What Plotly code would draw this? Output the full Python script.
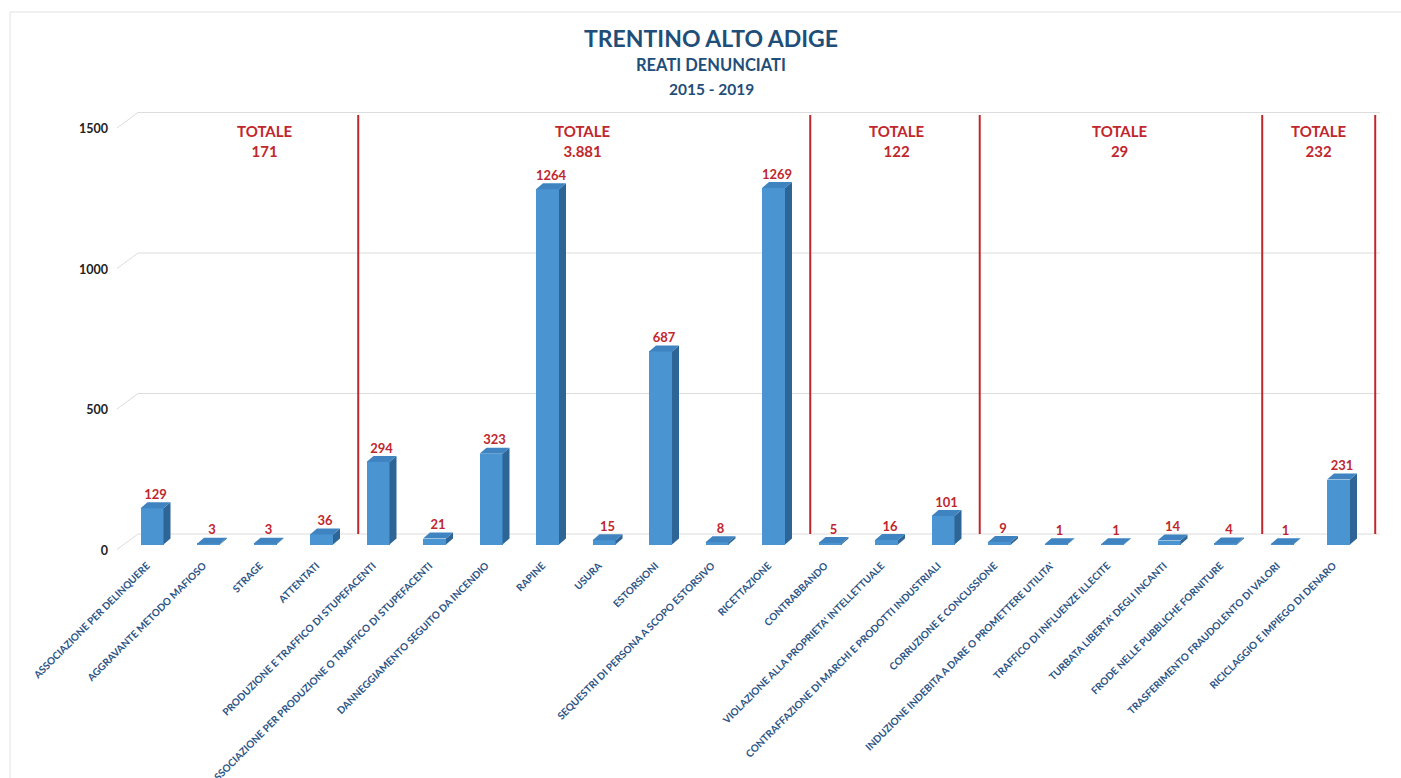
import plotly.graph_objects as go

# ---------------- data ----------------
categories = [
    "ASSOCIAZIONE PER DELINQUERE",
    "AGGRAVANTE METODO MAFIOSO",
    "STRAGE",
    "ATTENTATI",
    "PRODUZIONE E TRAFFICO DI STUPEFACENTI",
    "ASSOCIAZIONE PER PRODUZIONE O TRAFFICO DI STUPEFACENTI",
    "DANNEGGIAMENTO SEGUITO DA INCENDIO",
    "RAPINE",
    "USURA",
    "ESTORSIONI",
    "SEQUESTRI DI PERSONA A SCOPO ESTORSIVO",
    "RICETTAZIONE",
    "CONTRABBANDO",
    "VIOLAZIONE ALLA PROPRIETA' INTELLETTUALE",
    "CONTRAFFAZIONE DI MARCHI E PRODOTTI INDUSTRIALI",
    "CORRUZIONE E CONCUSSIONE",
    "INDUZIONE INDEBITA A DARE O PROMETTERE UTILITA'",
    "TRAFFICO DI INFLUENZE ILLECITE",
    "TURBATA LIBERTA' DEGLI INCANTI",
    "FRODE NELLE PUBBLICHE FORNITURE",
    "TRASFERIMENTO FRAUDOLENTO DI VALORI",
    "RICICLAGGIO E IMPIEGO DI DENARO",
]
values = [129, 3, 3, 36, 294, 21, 323, 1264, 15, 687, 8, 1269,
          5, 16, 101, 9, 1, 1, 14, 4, 1, 231]
group_sizes = [4, 8, 3, 5, 2]
y_ticks = [0, 500, 1000, 1500]

title_main = "TRENTINO ALTO ADIGE"
title_sub = "REATI DENUNCIATI"
title_years = "2015 - 2019"

# ---------------- layout geometry ----------------
PX_PER_CAT = 56.5
PX_PER_UNIT = 0.281
L, R, T, B = 109, 1390, 100, 560
X0_PX = 152
ZERO_PX = 544.5
W, H = 1401, 778

xmin = (L - X0_PX) / PX_PER_CAT
xmax = (R - X0_PX) / PX_PER_CAT
ymax = (ZERO_PX - T) / PX_PER_UNIT
ymin = -(B - ZERO_PX) / PX_PER_UNIT

def xpx(px):
    return (px - X0_PX) / PX_PER_CAT

def ypx(py):
    return (ZERO_PX - py) / PX_PER_UNIT

bar_w = 23 / PX_PER_CAT
ddx = 7 / PX_PER_CAT
ddy = 6 / PX_PER_UNIT
back_dy = 10.5 / PX_PER_UNIT

RED = "#c0272d"
BLUE_TXT = "#1f4e79"
LBL_BLUE = "#2b5485"
FRONT = "#4a94d1"
SIDE = "#2e6597"
TOP = "#3f84c1"
FONT = "Lato"

idx = list(range(len(categories)))
fig = go.Figure()
shapes = []

# back-wall gridlines (below everything)
for v in y_ticks:
    pts = [(xpx(117), v - 5 / PX_PER_UNIT), (xpx(138), v + back_dy), (xpx(1380), v + back_dy)]
    for (a, b), (c_, d) in zip(pts[:-1], pts[1:]):
        shapes.append(dict(type="line", xref="x", yref="y", x0=a, y0=b, x1=c_, y1=d,
                           line=dict(color="#dcdcdc", width=1), layer="below"))

# group separators
c = 0
for g in group_sizes:
    c += g
    b = c - 1 + 0.5 + 0.15
    shapes.append(dict(type="line", xref="x", yref="y", x0=b, x1=b,
                       y0=back_dy, y1=ypx(115),
                       line=dict(color=RED, width=2), layer="below"))

# front faces
fig.add_trace(go.Bar(x=idx, y=values, width=bar_w,
                     marker=dict(color=FRONT, line=dict(width=0)),
                     showlegend=False))

# side faces
px_, py_ = [], []
for i, v in zip(idx, values):
    xr = i + bar_w / 2
    px_ += [xr, xr, xr + ddx, xr + ddx, xr, None]
    py_ += [0, v, v + ddy, ddy, 0, None]
fig.add_trace(go.Scatter(x=px_, y=py_, mode="lines", fill="toself",
                         fillcolor=SIDE, line=dict(width=0, color=SIDE),
                         hoverinfo="skip", showlegend=False))

# top faces
tx, ty = [], []
for i, v in zip(idx, values):
    xl = i - bar_w / 2
    xr = i + bar_w / 2
    tx += [xl, xr, xr + ddx, xl + ddx, xl, None]
    ty += [v, v, v + ddy, v + ddy, v, None]
fig.add_trace(go.Scatter(x=tx, y=ty, mode="lines", fill="toself",
                         fillcolor=TOP, line=dict(width=0, color=TOP),
                         hoverinfo="skip", showlegend=False))

# value labels
fig.add_trace(go.Scatter(
    x=[i + ddx / 2 for i in idx], y=[v + ddy for v in values],
    mode="text", text=[str(v) for v in values], textposition="top center",
    textfont=dict(color=RED, size=13, family=FONT, weight="bold"),
    hoverinfo="skip", showlegend=False, cliponaxis=False))

# group totals
totals = []
c = 0
for g in group_sizes:
    totals.append(sum(values[c:c + g]))
    c += g
totals_x = [2.0, 7.63, 13.18, 17.14, 20.65]
annotations = []
for tx_, t in zip(totals_x, totals):
    annotations.append(dict(
        x=tx_, y=ypx(141), xref="x", yref="y",
        text="TOTALE<br>" + f"{t:,}".replace(",", "."),
        showarrow=False, font=dict(color=RED, size=15, family=FONT, weight="bold"),
        align="center"))

# titles
def paper_x(px):
    return (px - L) / (R - L)

def paper_y(py):
    return (B - py) / (B - T)

for txt, y, size in [(title_main, 38, 23), (title_sub, 65, 16.5), (title_years, 89, 15.5)]:
    annotations.append(dict(
        x=paper_x(711), y=paper_y(y), xref="paper", yref="paper",
        text=txt, showarrow=False, xanchor="center", yanchor="middle",
        font=dict(color=BLUE_TXT, size=size, family=FONT, weight="bold")))

shapes += [
    dict(type="line", xref="paper", yref="paper",
         x0=paper_x(10), x1=paper_x(1401), y0=paper_y(12), y1=paper_y(12),
         line=dict(color="#e2e2e2", width=1)),
    dict(type="line", xref="paper", yref="paper",
         x0=paper_x(10), x1=paper_x(10), y0=paper_y(12), y1=paper_y(778),
         line=dict(color="#e2e2e2", width=1)),
]

fig.update_layout(
    width=W, height=H,
    margin=dict(l=L, r=W - R, t=T, b=H - B, pad=0, autoexpand=False),
    paper_bgcolor="white", plot_bgcolor="white",
    bargap=0, showlegend=False,
    annotations=annotations, shapes=shapes,
    xaxis=dict(range=[xmin, xmax], tickmode="array", tickvals=idx,
               ticktext=categories, tickangle=-45, showgrid=False,
               zeroline=False, showline=False, ticks="", automargin=False,
               ticklabelstandoff=-3, ticklabelshift=-5,
               tickfont=dict(color=LBL_BLUE, size=10, family=FONT, weight="bold")),
    yaxis=dict(range=[ymin, ymax], tickmode="array", tickvals=y_ticks,
               ticktext=[str(v) for v in y_ticks], showgrid=False,
               zeroline=False, showline=False, ticks="", automargin=False,
               ticklabelshift=6,
               tickfont=dict(color="#222222", size=12.5, family=FONT, weight="bold")),
)

fig.write_html("out.html")
